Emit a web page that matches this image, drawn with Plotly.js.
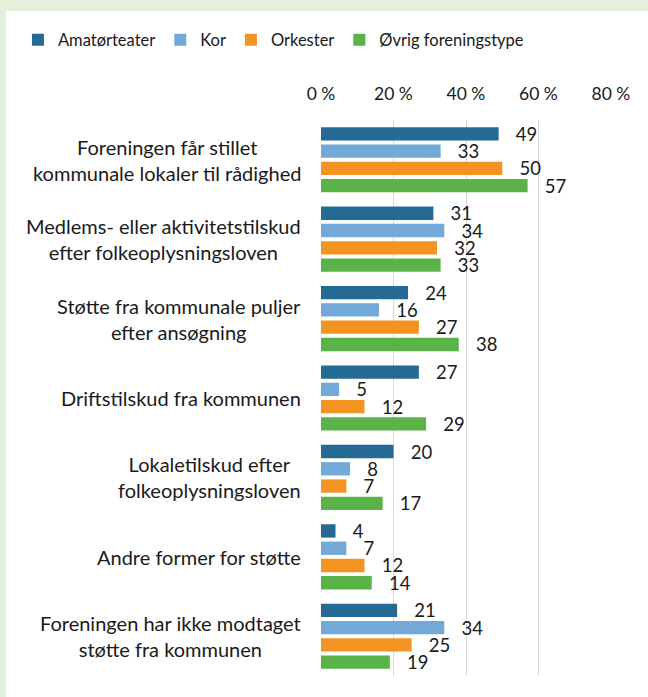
<!DOCTYPE html>
<html>
<head>
<meta charset="utf-8">
<script src="https://cdn.plot.ly/plotly-3.0.1.min.js"></script>
<style>
  html, body { margin: 0; padding: 0; background: #e4f0dc; width: 648px; height: 697px; overflow: hidden; }
  #chart { position: absolute; left: 6px; top: 11px; width: 642px; height: 686px; background: #ffffff; }
</style>
</head>
<body>
<div id="chart"></div>
<script>
const categories = [
  "Foreningen får stillet<br>kommunale lokaler til rådighed",
  "Medlems- eller aktivitetstilskud<br>efter folkeoplysningsloven",
  "Støtte fra kommunale puljer<br>efter ansøgning",
  "Driftstilskud fra kommunen",
  "Lokaletilskud efter<br>folkeoplysningsloven",
  "Andre former for støtte",
  "Foreningen har ikke modtaget<br>støtte fra kommunen"
];
const seriesNames = ["Amatørteater", "Kor", "Orkester", "Øvrig foreningstype"];
const amatorteater = [49, 31, 24, 27, 20, 4, 21];
const kor = [33, 34, 16, 5, 8, 7, 34];
const orkester = [50, 32, 27, 12, 7, 12, 25];
const ovrig = [57, 33, 38, 29, 17, 14, 19];
const xTicks = [0, 20, 40, 60, 80];

const colors = ["#246a94", "#72a9d9", "#f39322", "#5ab349"];
const seriesValues = [amatorteater, kor, orkester, ovrig];

const textFont = "Lato, 'Open Sans', sans-serif";

const traces = seriesValues.map((vals, i) => ({
  type: "bar",
  orientation: "h",
  name: seriesNames[i],
  y: categories,
  x: vals,
  marker: { color: colors[i] },
  text: vals.map(v => "\u00a0\u00a0\u00a0" + v),
  textposition: "outside",
  textfont: { family: textFont, size: 18.5, color: "#1a1a1a" },
  constraintext: "none",
  cliponaxis: false,
  hoverinfo: "skip"
}));

const annotations = categories.map(c => ({
  x: 0, xref: "paper", xanchor: "right", xshift: -18,
  y: c, yref: "y", yanchor: "middle",
  text: c, showarrow: false, align: "center",
  font: { family: textFont, size: 20, color: "#1a1a1a" }
}));

const layout = {
  width: 642, height: 686,
  margin: { l: 315, r: 37, t: 109, b: 21 },
  paper_bgcolor: "#ffffff",
  plot_bgcolor: "#ffffff",
  barmode: "group",
  bargap: 0.13,
  bargroupgap: 0.23,
  showlegend: true,
  legend: {
    orientation: "h",
    xref: "paper", yref: "paper",
    x: -1.045, y: 1.144, xanchor: "left", yanchor: "middle",
    font: { family: textFont, size: 16.5, color: "#1a1a1a" },
    itemwidth: 30,
    traceorder: "normal"
  },
  xaxis: {
    side: "top",
    range: [0, 80],
    tickvals: xTicks,
    ticktext: xTicks.map(t => t + " %"),
    showgrid: true,
    gridcolor: "#d9d9d9",
    gridwidth: 1,
    zeroline: false,
    showline: false,
    ticks: "",
    ticklabelstandoff: 16,
    tickfont: { family: textFont, size: 17.5, color: "#1a1a1a" },
    fixedrange: true
  },
  yaxis: {
    autorange: "reversed",
    showticklabels: false,
    ticks: "",
    showgrid: false,
    zeroline: false,
    showline: false,
    fixedrange: true
  },
  annotations: annotations
};

Plotly.newPlot("chart", traces, layout, { displayModeBar: false, staticPlot: true });
</script>
</body>
</html>
